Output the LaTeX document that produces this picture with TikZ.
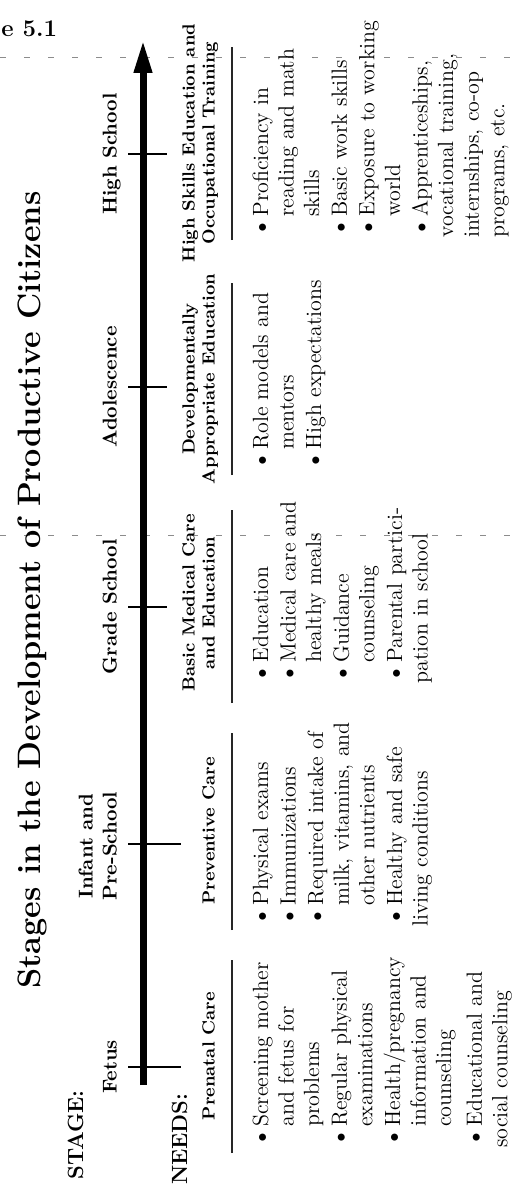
\documentclass[tikz,border=0pt]{standalone}
\usepackage{xcolor}
\usepackage{tikz}
\usetikzlibrary{arrows.meta, positioning}

% bullet item with hanging indent
\newcommand{\itm}[1]{\par\hangindent=10.5pt\hangafter=1\noindent
  \makebox[10.5pt][l]{\raisebox{-0.4pt}{\fontsize{13}{13}\selectfont\textbullet}}%
  {\let\\\newline #1}}

\begin{document}
\begin{tikzpicture}[
  x=0.5pt, y=-0.5pt,
  title/.style={
    rotate=90,
    inner sep=0pt,
    font=\fontsize{16.2}{19}\selectfont\bfseries
  },
  caption/.style={
    rotate=90,
    inner sep=0pt,
    font=\fontsize{11}{13}\selectfont\bfseries
  },
  stage/.style={
    rotate=90,
    anchor=south,
    inner sep=0pt,
    text depth=0pt,
    align=center,
    font=\fontsize{10}{12}\selectfont\bfseries
  },
  needhead/.style={
    rotate=90,
    anchor=south,
    inner sep=0pt,
    text depth=0pt,
    align=center,
    font=\fontsize{8.8}{10}\selectfont\bfseries
  },
  needlist/.style={
    rotate=90,
    anchor=north west,
    inner sep=0pt,
    text width=125pt,
    align=left,
    font=\fontsize{11}{12.8}\selectfont,
    execute at begin node={\setlength{\parskip}{1pt}}
  },
  timeline/.style={
    -{Triangle[length=16.5pt, width=8.5pt]},
    line width=3.5pt,
    draw=black
  },
  tick/.style={
    line width=1pt,
    draw=black
  },
  headrule/.style={
    line width=1pt,
    draw=black!85
  },
  scanline/.style={
    line width=0.4pt,
    draw=black!45,
    dash pattern=on 3pt off 9pt
  }
]
\useasboundingbox (0,0) rectangle (514,1188);

% Scan marks
\draw[scanline] (0,57) -- (514,57);
\draw[scanline] (0,535) -- (514,535);

% Figure number and title
\node[anchor=base west, inner sep=0pt, font=\fontsize{12}{14}\selectfont\bfseries] (fignum) at (1,37) {e 5.1};
\node[title, anchor=base] (title) at (40,590) {Stages in the Development of Productive Citizens};

\node[caption, anchor=base west] (stagelbl) at (83,1180) {STAGE:};
\node[caption, anchor=base east] (needslbl) at (187,1093) {NEEDS:};

% Timeline
\coordinate (tail) at (143,1085);
\coordinate (tip) at (143,40);
\draw[timeline] (tail) -- (tip);

\draw[tick] (128,1067) -- (181,1067);
\draw[tick] (128,844) -- (181,844);
\draw[tick] (128,607) -- (167,607);
\draw[tick] (128,387) -- (167,387);
\draw[tick] (128,154) -- (167,154);

% Stages
\node[stage] (fetus) at (117,1067) {Fetus};
\node[stage] (infant) at (117,846) {Infant and\\Pre-School};
\node[stage] (grade) at (117,607) {Grade School};
\node[stage] (adol) at (117,387) {Adolescence};
\node[stage] (high) at (117,154) {High School};

% Needs headings
\node[needhead] (prenatal) at (215,1056) {Prenatal Care};
\node[needhead] (preventive) at (215,831) {Preventive Care};
\node[needhead] (medical) at (215,603) {Basic Medical Care\\and Education};
\node[needhead] (develop) at (215,379) {Developmentally\\Appropriate Education};
\node[needhead] (skills) at (215,143) {High Skills Education and\\Occupational Training};

\draw[headrule] (232,1153) -- (232,960);
\draw[headrule] (232,930) -- (232,733);
\draw[headrule] (232,703) -- (232,510);
\draw[headrule] (232,475) -- (232,283);
\draw[headrule] (232,240) -- (232,47);

% Needs lists
\node[needlist] (prenatalList) at (240,1148) {%
  \itm{Screening mother\\and fetus for\\problems}
  \itm{Regular physical\\examinations}
  \itm{Health/pregnancy\\information and\\counseling}
  \vspace{1.5pt}
  \itm{Educational and\\social counseling}};
\node[needlist] (preventiveList) at (240,927) {%
  \itm{Physical exams}
  \itm{Immunizations}
  \itm{Required intake of\\milk, vitamins, and\\other nutrients}
  \itm{Healthy and safe\\living conditions}};
\node[needlist] (medicalList) at (240,684) {%
  \itm{Education}
  \itm{Medical care and\\healthy meals}
  \itm{Guidance\\counseling}
  \itm{Parental partici-\\pation in school}};
\node[needlist] (developList) at (240,471) {%
  \itm{Role models and\\mentors}
  \itm{High expectations}};
\node[needlist] (skillsList) at (240,238) {%
  \itm{Proficiency in\\reading and math\\skills}
  \itm{Basic work skills}
  \itm{Exposure to working\\world}
  \itm{Apprenticeships,\\vocational training,\\internships, co-op\\programs, etc.}};
\end{tikzpicture}
\end{document}
